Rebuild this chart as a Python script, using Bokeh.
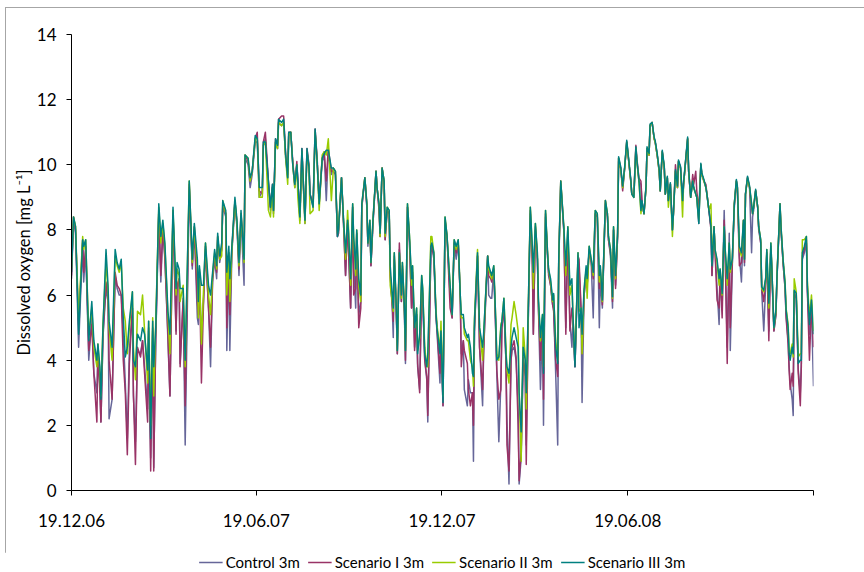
from bokeh.plotting import figure
from bokeh.layouts import column
from bokeh.models import (ColumnDataSource, FixedTicker, Legend, LegendItem, Range1d,
                          InlineStyleSheet)
from bokeh.embed import file_html
from bokeh.resources import INLINE

# Days since 19.12.2006 at which dissolved oxygen is sampled (3 m depth)
days = [
    0, 2, 4, 7, 11, 12, 14, 17, 20, 22,
    25, 26, 28, 29, 31, 34, 36, 37, 40, 43,
    45, 47, 49, 51, 53, 55, 57, 60, 61, 63,
    65, 68, 70, 72, 75, 76, 78, 80, 81, 83,
    86, 88, 90, 92, 95, 97, 100, 103, 104, 106,
    107, 110, 112, 116, 119, 121, 124, 125, 126, 128,
    130, 132, 135, 137, 139, 141, 143, 144, 146, 148,
    149, 152, 153, 155, 156, 158, 161, 163, 165, 167,
    170, 171, 174, 176, 178, 181, 183, 185, 188, 189,
    191, 194, 196, 198, 199, 201, 203, 204, 207, 209,
    211, 213, 214, 216, 218, 220, 222, 223, 225, 227,
    230, 232, 234, 235, 238, 240, 242, 244, 247, 249,
    251, 253, 256, 258, 260, 262, 263, 266, 268, 270,
    272, 273, 275, 277, 278, 280, 281, 283, 285, 286,
    289, 291, 292, 294, 295, 297, 300, 301, 303, 304,
    306, 308, 309, 311, 313, 314, 316, 317, 318, 320,
    321, 323, 325, 326, 328, 329, 331, 333, 335, 336,
    338, 340, 341, 343, 345, 346, 348, 350, 351, 354,
    355, 357, 359, 360, 363, 364, 366, 368, 370, 373,
    375, 377, 379, 381, 383, 384, 386, 387, 390, 391,
    393, 395, 396, 397, 400, 402, 405, 406, 408, 410,
    411, 413, 414, 416, 418, 419, 421, 423, 424, 426,
    428, 429, 431, 433, 434, 436, 438, 440, 441, 443,
    445, 447, 448, 450, 452, 454, 455, 457, 459, 460,
    462, 464, 465, 467, 469, 470, 472, 474, 475, 477,
    479, 480, 482, 485, 487, 489, 491, 493, 494, 496,
    498, 499, 500, 502, 503, 505, 507, 508, 510, 512,
    514, 516, 518, 520, 521, 523, 526, 528, 529, 531,
    533, 534, 536, 538, 539, 541, 543, 545, 547, 548,
    551, 552, 554, 556, 557, 559, 561, 562, 564, 566,
    567, 569, 570, 572, 574, 575, 577, 579, 580, 582,
    584, 585, 587, 588, 590, 592, 593, 595, 597, 598,
    600, 602, 603, 605, 607, 608, 610, 612, 613, 615,
    616, 618, 620, 621, 623, 625, 626, 628, 630, 631,
    633, 634, 636, 638, 639, 641, 643, 644, 646, 648,
    649, 651, 653, 655, 656, 658, 660, 662, 663, 664,
    666, 668, 670, 671, 672, 674, 676, 677, 679, 680,
    682, 684, 685, 687, 689, 690, 692, 694, 695, 698,
    699, 701, 703, 704, 706, 707, 708, 710, 711, 712,
    714, 716, 718, 719, 720, 722, 724, 725, 727, 729, 731,
]

control_3m = [
    6.5, 8.3, 7.9, 4.4, 7.6, 6.4, 7.4, 4.0, 5.3, 3.6,
    3.0, 4.2, 3.2, 2.1, 4.7, 6.2, 5.8, 2.2, 2.8, 6.6,
    6.2, 6.0, 6.0, 4.8, 3.3, 1.6, 4.3, 5.6, 2.9, 1.5,
    4.3, 4.2, 4.6, 3.8, 2.5, 4.9, 1.0, 4.9, 0.7, 4.6,
    8.5, 6.4, 8.0, 7.2, 4.6, 2.9, 8.5, 4.9, 6.2, 6.5,
    3.9, 5.8, 1.4, 9.3, 6.8, 8.0, 5.3, 5.1, 6.6, 4.7,
    5.8, 7.4, 5.6, 3.8, 6.4, 7.1, 6.5, 7.7, 7.0, 7.4,
    8.7, 8.4, 4.3, 7.2, 4.3, 7.3, 8.8, 8.1, 6.6, 8.4,
    6.3, 10.2, 10.0, 9.3, 9.7, 10.7, 10.7, 9.0, 9.2, 10.6,
    10.8, 9.4, 8.6, 9.3, 8.5, 10.7, 10.5, 11.3, 11.2, 11.3,
    10.2, 9.6, 10.9, 11.0, 10.0, 9.3, 10.0, 9.5, 8.3, 10.4,
    8.2, 10.4, 9.9, 9.1, 8.7, 11.0, 10.1, 8.8, 10.1, 10.3,
    8.9, 10.4, 9.7, 9.9, 9.8, 7.8, 7.9, 9.6, 8.2, 6.6,
    8.2, 7.4, 5.6, 8.7, 7.0, 5.6, 7.9, 5.4, 5.8, 8.7,
    9.6, 8.7, 7.5, 8.2, 6.9, 8.2, 9.8, 9.3, 8.7, 7.8,
    9.9, 9.5, 7.7, 8.6, 8.5, 6.6, 5.6, 4.7, 7.1, 5.4,
    4.2, 7.4, 5.8, 6.8, 5.4, 3.9, 8.7, 7.6, 5.6, 6.6,
    4.4, 5.4, 3.8, 3.1, 6.3, 5.9, 4.0, 3.4, 2.1, 7.3,
    7.5, 7.1, 5.4, 4.9, 3.3, 4.7, 2.6, 8.3, 7.7, 6.0,
    5.3, 7.6, 7.1, 7.6, 5.9, 4.2, 4.6, 3.1, 2.6, 3.4,
    3.0, 3.0, 0.9, 4.9, 7.2, 4.4, 2.6, 4.2, 5.8, 7.2,
    6.0, 5.9, 5.9, 6.8, 4.8, 3.6, 1.5, 3.3, 5.0, 5.7,
    4.0, 2.2, 0.2, 4.0, 4.3, 4.4, 4.0, 2.6, 0.2, 1.0,
    4.0, 3.5, 1.4, 5.2, 8.5, 7.2, 4.8, 8.0, 7.1, 5.6,
    3.1, 5.2, 2.0, 8.4, 7.2, 6.6, 6.3, 5.7, 5.6, 3.6,
    1.4, 6.9, 9.4, 8.0, 5.0, 7.9, 5.2, 4.4, 5.2, 3.8,
    5.9, 7.2, 6.9, 5.5, 2.7, 6.0, 6.7, 6.3, 7.4, 7.0,
    5.3, 8.5, 8.4, 5.0, 6.5, 5.6, 8.8, 8.4, 7.7, 7.2,
    5.6, 8.0, 6.3, 7.8, 10.1, 9.9, 9.3, 9.9, 10.7, 10.4,
    9.5, 9.1, 9.0, 10.5, 10.1, 9.5, 9.4, 8.8, 8.5, 9.3,
    10.5, 10.3, 11.2, 11.3, 10.8, 10.7, 10.3, 9.8, 9.2, 10.4,
    9.9, 9.1, 9.6, 8.9, 9.4, 8.0, 8.5, 9.8, 9.3, 10.1,
    9.9, 8.9, 9.4, 10.1, 10.8, 9.8, 9.0, 9.5, 9.3, 9.1,
    9.0, 8.2, 10.0, 9.7, 9.5, 9.3, 9.1, 8.6, 8.1, 6.6,
    8.1, 7.4, 6.2, 5.1, 6.6, 5.6, 8.6, 7.3, 4.4, 7.9,
    4.3, 6.9, 8.7, 9.5, 9.3, 7.2, 6.4, 8.2, 6.9, 9.1,
    9.6, 9.3, 7.3, 8.4, 8.6, 9.2, 8.7, 8.0, 7.6, 6.1,
    4.9, 6.4, 7.3, 4.9, 7.5, 6.7, 4.9, 5.4, 6.5, 8.7,
    8.0, 7.0, 6.2, 5.4, 4.6, 3.8, 3.3, 2.8, 2.3, 6.0,
    5.9, 3.7, 3.0, 3.9, 7.1, 7.3, 7.6, 6.1, 4.8, 5.6, 3.2,
]

scenario_1_3m = [
    6.6, 8.4, 8.0, 5.1, 7.7, 6.7, 7.5, 4.3, 5.1, 3.6,
    2.1, 4.3, 3.0, 2.1, 4.8, 6.4, 5.9, 4.0, 2.8, 6.7,
    6.3, 6.2, 6.0, 4.0, 3.0, 1.1, 3.9, 5.6, 3.0, 0.8,
    4.4, 4.1, 4.6, 3.6, 2.1, 5.0, 0.6, 5.0, 0.6, 4.7,
    8.6, 6.6, 8.1, 7.1, 4.8, 2.9, 8.6, 4.8, 6.3, 6.5,
    3.8, 5.9, 2.6, 9.4, 6.9, 8.1, 5.8, 5.4, 6.7, 3.3,
    5.7, 7.5, 5.6, 4.4, 6.5, 7.2, 6.7, 7.8, 7.1, 7.4,
    8.8, 8.5, 5.0, 7.3, 5.4, 7.4, 8.9, 8.2, 6.8, 8.5,
    7.2, 10.3, 10.1, 9.5, 9.8, 10.8, 11.0, 9.2, 9.1, 10.7,
    11.0, 9.5, 8.7, 9.4, 8.6, 10.8, 10.6, 11.4, 11.5, 11.5,
    10.3, 9.7, 11.0, 11.0, 10.1, 9.4, 10.1, 9.5, 8.4, 10.5,
    8.3, 10.5, 10.0, 9.1, 8.8, 11.1, 10.2, 8.9, 10.2, 10.4,
    9.5, 10.5, 9.8, 9.8, 9.7, 7.8, 7.9, 9.6, 8.2, 6.6,
    8.2, 7.3, 5.6, 8.7, 6.0, 6.2, 7.9, 5.0, 5.6, 8.7,
    9.6, 8.7, 7.6, 8.2, 6.9, 8.2, 9.8, 9.3, 8.6, 7.8,
    9.9, 9.4, 7.7, 8.6, 8.5, 6.6, 5.7, 5.2, 7.2, 5.5,
    4.2, 7.6, 5.8, 6.9, 5.5, 4.0, 8.7, 7.6, 5.6, 6.7,
    4.3, 5.4, 3.9, 3.0, 6.4, 6.0, 4.0, 3.5, 2.3, 7.3,
    7.5, 7.2, 5.4, 5.0, 3.6, 4.8, 2.6, 8.3, 7.8, 5.6,
    5.3, 7.6, 7.3, 7.6, 5.9, 3.8, 4.6, 4.3, 3.9, 3.1,
    2.6, 3.0, 2.0, 5.0, 7.2, 4.4, 3.1, 4.3, 5.9, 7.2,
    6.6, 6.5, 6.4, 6.8, 4.9, 3.7, 2.8, 3.1, 5.0, 5.6,
    4.0, 1.4, 0.6, 4.0, 4.4, 4.6, 4.1, 2.0, 0.3, 1.2,
    4.1, 3.6, 0.8, 5.3, 8.6, 6.9, 4.8, 8.1, 7.1, 5.6,
    4.0, 5.3, 2.8, 8.5, 7.2, 6.7, 6.3, 5.7, 5.5, 4.0,
    3.5, 7.0, 9.5, 8.0, 4.8, 8.0, 4.9, 5.6, 5.3, 3.8,
    6.0, 7.2, 7.1, 5.6, 4.2, 6.0, 6.7, 6.3, 7.4, 7.0,
    6.5, 8.5, 8.4, 6.2, 6.7, 5.7, 8.9, 8.4, 7.7, 7.3,
    5.8, 8.0, 6.2, 7.8, 10.2, 9.9, 9.2, 9.9, 10.7, 10.4,
    9.5, 9.1, 9.1, 10.6, 10.2, 9.6, 9.5, 8.9, 8.5, 9.3,
    10.5, 10.3, 11.2, 11.3, 10.8, 10.7, 10.3, 9.8, 9.2, 10.4,
    9.9, 9.1, 9.6, 8.9, 9.4, 8.0, 8.5, 10.0, 9.3, 10.1,
    9.9, 8.9, 9.4, 10.1, 10.8, 9.8, 9.0, 9.7, 9.4, 9.8,
    9.2, 8.6, 10.0, 9.7, 9.5, 9.4, 9.1, 8.6, 8.0, 6.6,
    8.1, 7.3, 5.85, 5.6, 6.7, 5.3, 8.3, 7.3, 3.9, 7.5,
    5.0, 7.0, 8.8, 9.5, 9.3, 6.9, 7.0, 8.3, 7.0, 9.1,
    9.6, 9.3, 8.7, 8.5, 8.7, 9.2, 8.7, 8.1, 7.6, 6.2,
    5.8, 6.5, 7.3, 4.6, 7.5, 6.7, 4.9, 5.4, 6.5, 8.8,
    8.0, 7.0, 6.2, 5.3, 4.5, 3.7, 3.1, 3.6, 3.2, 6.1,
    5.9, 3.6, 2.6, 3.8, 7.2, 7.4, 7.7, 6.1, 4.0, 5.7, 4.4,
]

scenario_2_3m = [
    6.8, 8.4, 8.1, 5.3, 7.8, 7.4, 7.7, 4.8, 5.6, 4.4,
    3.8, 4.5, 3.6, 2.9, 5.1, 7.0, 6.1, 5.0, 4.0, 7.2,
    6.9, 6.7, 7.0, 5.6, 5.2, 4.2, 5.0, 6.1, 4.4, 3.4,
    5.5, 5.4, 6.0, 4.9, 3.3, 5.2, 2.0, 5.3, 2.9, 5.2,
    8.7, 7.6, 8.2, 7.5, 5.4, 4.2, 8.6, 6.0, 6.8, 6.6,
    5.8, 6.3, 3.8, 9.5, 7.0, 8.1, 6.8, 5.3, 6.8, 4.5,
    6.1, 7.6, 6.0, 5.4, 6.6, 7.3, 6.8, 7.8, 7.1, 7.2,
    8.9, 8.5, 6.0, 7.3, 5.8, 7.4, 8.9, 8.2, 6.9, 8.5,
    7.0, 10.3, 10.2, 9.5, 9.8, 10.8, 10.8, 9.0, 9.0, 10.6,
    10.7, 8.6, 8.4, 9.3, 8.4, 10.7, 10.5, 11.3, 11.2, 11.3,
    10.2, 9.4, 10.9, 11.0, 10.0, 9.3, 10.0, 9.0, 8.2, 10.4,
    8.2, 10.4, 9.9, 8.5, 8.6, 11.0, 10.1, 8.6, 10.3, 10.4,
    10.3, 10.8, 8.9, 9.9, 9.8, 7.9, 8.0, 9.6, 8.3, 7.1,
    8.6, 8.0, 6.3, 8.8, 7.7, 6.6, 8.0, 6.3, 5.8, 8.8,
    9.6, 8.8, 7.6, 8.3, 7.0, 8.3, 9.8, 9.3, 8.8, 7.8,
    9.9, 9.5, 7.8, 8.7, 8.6, 6.3, 5.8, 5.5, 7.3, 5.6,
    4.3, 7.3, 5.9, 7.0, 5.6, 4.3, 8.8, 7.8, 6.3, 6.9,
    5.0, 5.6, 4.3, 4.7, 6.6, 6.2, 4.4, 3.8, 3.8, 7.8,
    7.8, 7.3, 5.6, 5.1, 4.3, 5.2, 2.9, 8.4, 7.8, 6.3,
    5.4, 7.7, 7.4, 7.7, 6.0, 5.3, 5.3, 4.8, 4.6, 4.6,
    4.0, 3.8, 3.2, 5.3, 7.4, 5.0, 4.0, 4.7, 6.0, 7.2,
    6.8, 6.6, 6.5, 6.9, 5.2, 4.2, 4.0, 5.1, 5.2, 5.9,
    4.4, 3.7, 3.3, 5.1, 5.3, 5.8, 5.4, 4.9, 3.0, 0.9,
    5.0, 4.1, 2.5, 5.6, 8.7, 7.4, 6.2, 8.2, 7.2, 5.8,
    4.6, 5.4, 3.8, 8.6, 7.3, 6.8, 6.4, 5.8, 6.0, 4.6,
    4.0, 7.0, 9.5, 8.1, 6.6, 8.1, 6.0, 6.3, 5.4, 4.0,
    6.1, 7.3, 5.5, 5.6, 4.2, 6.1, 6.8, 5.9, 7.5, 7.1,
    6.6, 8.6, 8.5, 6.4, 6.8, 5.8, 8.9, 8.5, 7.8, 7.4,
    5.9, 8.1, 6.5, 7.9, 10.2, 9.9, 9.3, 9.9, 10.7, 10.4,
    9.5, 9.1, 9.0, 10.5, 10.1, 9.5, 8.5, 8.8, 8.5, 9.3,
    10.5, 10.3, 11.2, 11.3, 10.8, 10.7, 10.3, 9.8, 9.2, 10.4,
    9.9, 9.1, 9.6, 8.7, 9.4, 7.8, 8.5, 9.8, 9.3, 10.1,
    9.9, 8.4, 9.4, 10.1, 10.8, 9.8, 9.0, 9.5, 9.3, 9.1,
    9.0, 8.3, 10.0, 9.7, 9.5, 9.3, 9.1, 8.6, 8.8, 7.0,
    8.1, 7.4, 7.0, 6.3, 6.8, 6.0, 8.1, 7.4, 6.3, 7.6,
    6.7, 7.1, 8.8, 9.5, 9.3, 7.4, 7.2, 8.3, 7.1, 9.1,
    9.6, 9.3, 8.8, 8.5, 8.7, 9.2, 8.7, 8.1, 7.7, 6.2,
    6.1, 6.5, 7.4, 5.6, 7.6, 6.8, 5.0, 5.5, 6.6, 8.8,
    8.1, 7.1, 6.4, 5.6, 5.1, 4.3, 4.2, 4.5, 4.1, 6.5,
    6.1, 4.1, 4.2, 4.2, 7.7, 7.7, 7.8, 6.4, 5.3, 6.0, 4.9,
]

scenario_3_3m = [
    6.7, 8.4, 8.1, 4.8, 7.7, 7.5, 7.7, 4.6, 5.8, 4.6,
    4.0, 4.5, 3.8, 2.8, 5.0, 7.4, 6.3, 5.2, 4.4, 7.4,
    7.0, 6.8, 7.1, 5.3, 4.1, 4.4, 5.2, 6.1, 4.0, 3.8,
    4.8, 4.6, 5.0, 4.8, 3.7, 5.2, 1.6, 5.2, 3.8, 5.0,
    8.8, 7.8, 8.3, 7.6, 5.5, 4.8, 8.7, 6.2, 7.0, 6.8,
    6.2, 6.2, 4.0, 9.5, 7.1, 8.2, 7.1, 5.8, 6.9, 6.3,
    6.3, 7.6, 6.3, 6.0, 6.7, 7.4, 6.9, 7.9, 7.2, 7.6,
    8.9, 8.6, 6.7, 7.5, 6.5, 7.5, 9.0, 8.3, 7.0, 8.6,
    7.1, 10.3, 10.2, 9.6, 9.8, 10.9, 10.8, 9.3, 9.3, 10.7,
    10.7, 9.5, 8.7, 9.4, 8.6, 10.8, 10.6, 11.4, 11.3, 11.4,
    10.3, 9.6, 11.0, 11.0, 10.0, 9.4, 10.0, 9.5, 8.4, 10.5,
    8.3, 10.5, 9.9, 9.1, 8.7, 11.1, 10.1, 8.8, 10.2, 10.35,
    10.45, 10.45, 9.9, 9.9, 9.8, 7.8, 8.0, 9.6, 8.3, 7.3,
    8.3, 7.9, 6.5, 8.8, 7.8, 6.8, 8.0, 6.5, 6.0, 8.8,
    9.6, 8.8, 7.6, 8.3, 7.0, 8.3, 9.8, 9.3, 8.8, 7.9,
    9.9, 9.5, 7.9, 8.7, 8.6, 6.9, 6.0, 5.6, 7.3, 5.6,
    4.3, 7.3, 6.0, 7.0, 5.6, 4.3, 8.8, 7.8, 6.5, 6.9,
    5.0, 5.6, 4.2, 4.8, 6.6, 6.2, 4.2, 3.8, 4.2, 7.5,
    7.6, 7.3, 5.5, 5.0, 4.2, 4.9, 2.7, 8.4, 7.8, 6.3,
    5.4, 7.7, 7.5, 7.7, 6.0, 5.4, 5.4, 5.0, 4.7, 4.8,
    4.4, 3.6, 3.5, 5.2, 7.3, 5.0, 4.4, 4.8, 6.0, 7.2,
    6.9, 6.7, 6.6, 6.9, 5.2, 4.0, 4.1, 5.0, 5.2, 5.9,
    4.2, 3.8, 3.6, 4.4, 4.7, 5.0, 4.7, 4.4, 3.0, 1.8,
    4.4, 4.0, 3.0, 5.6, 8.7, 7.5, 6.7, 8.2, 7.3, 5.9,
    4.7, 5.4, 3.6, 8.6, 7.3, 6.8, 6.5, 5.85, 6.05, 4.4,
    3.9, 7.1, 9.5, 8.1, 6.9, 8.1, 6.3, 6.5, 5.4, 3.8,
    6.1, 7.3, 5.0, 5.6, 4.8, 6.2, 6.9, 6.5, 7.5, 7.1,
    6.7, 8.6, 8.5, 6.6, 6.9, 5.85, 8.9, 8.5, 7.8, 7.4,
    5.95, 8.1, 6.6, 7.9, 10.25, 9.95, 9.35, 9.95, 10.75, 10.45,
    9.55, 9.1, 9.0, 10.55, 10.15, 9.55, 8.6, 8.9, 8.5, 9.35,
    10.55, 10.35, 11.25, 11.3, 10.85, 10.75, 10.35, 9.85, 9.2, 10.45,
    9.95, 9.1, 9.65, 8.9, 9.45, 8.0, 8.5, 9.85, 9.35, 10.15,
    9.95, 8.9, 9.45, 10.15, 10.85, 9.85, 9.0, 9.5, 9.3, 9.1,
    9.0, 8.2, 10.05, 9.75, 9.55, 9.3, 9.1, 8.6, 8.1, 6.9,
    8.1, 7.4, 7.1, 6.5, 6.8, 6.05, 8.1, 7.4, 6.5, 7.6,
    6.8, 7.1, 8.8, 9.55, 9.35, 7.5, 7.3, 8.3, 7.1, 9.1,
    9.65, 9.35, 8.8, 8.5, 8.7, 9.25, 8.7, 8.1, 7.7, 6.25,
    6.15, 6.55, 7.4, 5.75, 7.6, 6.8, 5.0, 5.55, 6.55, 8.8,
    8.1, 7.1, 6.35, 5.55, 5.0, 4.2, 4.0, 4.4, 4.2, 6.15,
    6.05, 3.9, 4.0, 4.0, 7.3, 7.5, 7.8, 6.25, 5.1, 5.85, 4.8,
]

series_names = ["Control 3m", "Scenario I 3m", "Scenario II 3m", "Scenario III 3m"]
series_colors = ["#666699", "#993366", "#99CC00", "#008080"]

# Half-year ticks along the time axis; the closing tick carries no label
tick_days = [0, 182, 365, 548, 731]
tick_labels = ["19.12.06", "19.06.07", "19.12.07", "19.06.08", ""]
y_ticks = [0, 2, 4, 6, 8, 10, 12, 14]

FONT = "Lato"

source = ColumnDataSource(data=dict(
    day=days, control=control_3m, s1=scenario_1_3m, s2=scenario_2_3m, s3=scenario_3_3m))
columns = ["control", "s1", "s2", "s3"]

# ---- main chart -------------------------------------------------------------
chart = figure(width=864, height=552, output_backend="svg", toolbar_location=None,
               x_range=Range1d(0, 731), y_range=Range1d(0, 14),
               min_border_left=71, min_border_right=51,
               min_border_top=34, min_border_bottom=62,
               background_fill_color="white", border_fill_color="white")
chart.outline_line_color = None
chart.grid.visible = False

# Light grey chart-area border along the left and top edges of the page
chart.stylesheets = [InlineStyleSheet(css="""
:host::after {
  content: "";
  position: absolute;
  left: 5px; top: 7px;
  width: 859px; height: 565px;
  box-sizing: border-box;
  border-left: 1.5px solid #a6a6a6;
  border-top: 1.5px solid #a6a6a6;
  pointer-events: none;
}
""")]

for col, color in zip(columns, series_colors):
    chart.line("day", col, source=source, line_color=color, line_width=1.5,
               line_join="round")

for ax in (chart.xaxis[0], chart.yaxis[0]):
    ax.axis_line_color = "black"
    ax.axis_line_width = 1
    ax.major_tick_line_color = "black"
    ax.minor_tick_line_color = None
    ax.major_tick_in = 0
    ax.major_tick_out = 5
    ax.major_label_text_font = FONT
    ax.major_label_text_font_size = "17px"
    ax.major_label_text_color = "black"

chart.xaxis.ticker = FixedTicker(ticks=tick_days)
chart.xaxis.major_label_overrides = dict(zip(tick_days, tick_labels))
chart.xaxis.major_label_standoff = 18

chart.yaxis.ticker = FixedTicker(ticks=y_ticks)
chart.yaxis.major_label_standoff = 10
chart.yaxis.axis_label = "Dissolved oxygen [mg L\u207b\u00b9]"
chart.yaxis.axis_label_text_font = FONT
chart.yaxis.axis_label_text_font_size = "16.5px"
chart.yaxis.axis_label_text_font_style = "normal"
chart.yaxis.axis_label_text_color = "black"
chart.yaxis.axis_label_standoff = 0

# ---- legend strip under the chart ---------------------------------------------
# The series are drawn again here on a y-range far above the data, so only the
# legend samples taken from their line styles show.
strip = figure(width=864, height=20, output_backend="svg", toolbar_location=None,
               x_range=Range1d(0, 731), y_range=Range1d(100, 101),
               x_axis_location=None, y_axis_location=None, min_border=0,
               background_fill_color="white", border_fill_color="white")
strip.outline_line_color = None
strip.grid.visible = False

strip_renderers = []
for col, color in zip(columns, series_colors):
    strip_renderers.append(strip.line("day", col, source=source, line_color=color,
                                      line_width=1.5))

legend = Legend(
    items=[LegendItem(label=n, renderers=[r]) for n, r in zip(series_names, strip_renderers)],
    orientation="horizontal", location="center",
    glyph_width=24, glyph_height=16, label_height=16, label_standoff=3,
    spacing=8, padding=0, margin=0, border_line_color=None,
    background_fill_alpha=0, label_text_font=FONT, label_text_font_size="15px",
    label_text_color="black")
strip.add_layout(legend)

p = column(chart, strip, spacing=0)

open("out.html", "w").write(file_html(p, INLINE))
